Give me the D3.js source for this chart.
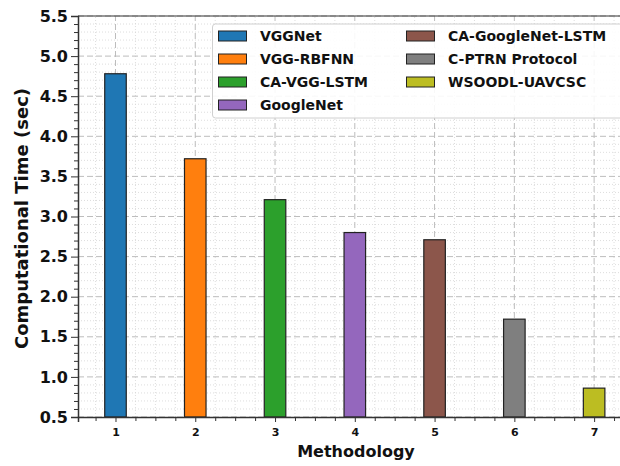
<!DOCTYPE html>
<html>
<head>
<meta charset="utf-8">
<script src="https://cdn.jsdelivr.net/npm/d3@7"></script>
<style>
	body { margin: 0; background: #fff; }
	svg { display: block; font-family: 'DejaVu Sans', sans-serif; font-weight: bold; }
</style>
</head>
<body>
<div class="bar-chart"></div>
<script>
// Chart data.
var methods = [1, 2, 3, 4, 5, 6, 7];
var names = ['VGGNet', 'VGG-RBFNN', 'CA-VGG-LSTM', 'GoogleNet', 'CA-GoogleNet-LSTM', 'C-PTRN Protocol', 'WSOODL-UAVCSC'];
var times = [4.78, 3.72, 3.21, 2.80, 2.71, 1.72, 0.86];
var colors = ['#1f77b4', '#ff7f0e', '#2ca02c', '#9467bd', '#8c564b', '#7f7f7f', '#bcbd22'];
var yTicks = [0.5, 1.0, 1.5, 2.0, 2.5, 3.0, 3.5, 4.0, 4.5, 5.0, 5.5];

var width = 620, height = 466;
var margin = {top: 16, left: 78, bottom: 49, right: -14};
var barWidth = 0.27;

var x = d3.scaleLinear().domain([0.53, 7.5]).range([margin.left, width - margin.right]);
var y = d3.scaleLinear().domain([0.5, 5.5]).range([height - margin.bottom, margin.top]);

var svg = d3.select('.bar-chart').append('svg')
	.attr('width', width)
	.attr('height', height);

// Grid lines: minor dotted, major dashed.
var xMinor = d3.range(0.75, 7.5, 0.25).filter(function(d) { return d % 1 !== 0; });
var yMinor = d3.range(6, 55).map(function(d) { return d / 10; }).filter(function(d) { return Math.round(d * 10) % 5 !== 0; });
var grid = svg.append('g');
grid.selectAll('.vminor').data(xMinor).enter().append('line')
	.attr('x1', x).attr('x2', x)
	.attr('y1', y(0.5)).attr('y2', y(5.5))
	.attr('stroke', '#d4d4d4').attr('stroke-width', 0.8).attr('stroke-dasharray', '1,2');
grid.selectAll('.hminor').data(yMinor).enter().append('line')
	.attr('x1', x(0.53)).attr('x2', width)
	.attr('y1', y).attr('y2', y)
	.attr('stroke', '#d4d4d4').attr('stroke-width', 0.8).attr('stroke-dasharray', '1,2');
grid.selectAll('.vmajor').data(methods).enter().append('line')
	.attr('x1', x).attr('x2', x)
	.attr('y1', y(0.5)).attr('y2', y(5.5))
	.attr('stroke', '#bdbdbd').attr('stroke-width', 1).attr('stroke-dasharray', '6,3');
grid.selectAll('.hmajor').data(yTicks).enter().append('line')
	.attr('x1', x(0.53)).attr('x2', width)
	.attr('y1', y).attr('y2', y)
	.attr('stroke', '#bdbdbd').attr('stroke-width', 1).attr('stroke-dasharray', '6,3');

// Bars.
svg.selectAll('.bar').data(methods).enter().append('rect')
	.attr('x', function(d) { return x(d - barWidth / 2); })
	.attr('width', x(1 + barWidth) - x(1))
	.attr('y', function(d, i) { return y(times[i]); })
	.attr('height', function(d, i) { return y(0.5) - y(times[i]); })
	.attr('fill', function(d, i) { return colors[i]; })
	.attr('stroke', '#222')
	.attr('stroke-width', 1.2);

// Axes.
var yAxis = svg.append('g')
	.attr('transform', 'translate(' + margin.left + ',0)')
	.call(d3.axisLeft(y).tickValues(yTicks).tickSize(7).tickPadding(3).tickFormat(d3.format('.1f')));
svg.append('g')
	.attr('transform', 'translate(' + margin.left + ',0)')
	.call(d3.axisLeft(y).tickValues(yMinor).tickSize(4).tickFormat(''))
	.select('.domain').remove();
var xAxis = svg.append('g')
	.attr('transform', 'translate(0,' + y(0.5) + ')')
	.call(d3.axisBottom(x).tickValues(methods).tickSize(5).tickPadding(6).tickFormat(d3.format('d')));
svg.append('g')
	.attr('transform', 'translate(0,' + y(0.5) + ')')
	.call(d3.axisBottom(x).tickValues(xMinor).tickSize(4).tickFormat(''))
	.select('.domain').remove();
svg.selectAll('.tick line').attr('stroke', '#333');
yAxis.selectAll('.tick text').attr('font-size', '16px').attr('font-family', 'DejaVu Sans').attr('font-weight', 'bold').attr('fill', '#111');
xAxis.selectAll('.tick text').attr('font-size', '11px').attr('font-family', 'DejaVu Sans').attr('font-weight', 'bold').attr('fill', '#111');
yAxis.select('.domain').attr('stroke', '#333').attr('stroke-width', 1.5);
xAxis.select('.domain').attr('stroke', '#333').attr('stroke-width', 1.5);

// Top spine.
svg.append('line')
	.attr('x1', x(0.53)).attr('x2', width)
	.attr('y1', y(5.5)).attr('y2', y(5.5))
	.attr('stroke', '#333').attr('stroke-width', 1.2);

// Axis labels.
svg.append('text')
	.attr('x', (x(0.53) + x(7.5)) / 2)
	.attr('y', 457)
	.attr('text-anchor', 'middle')
	.attr('font-size', '16px')
	.attr('fill', '#111')
	.text('Methodology');
svg.append('text')
	.attr('transform', 'translate(28,' + (y(3.0) + 2) + ') rotate(-90)')
	.attr('text-anchor', 'middle')
	.attr('font-size', '18px')
	.attr('fill', '#111')
	.text('Computational Time (sec)');

// Legend, two columns filled top to bottom.
var legend = svg.append('g');
legend.append('rect')
	.attr('x', 212.5).attr('y', 24)
	.attr('width', 430).attr('height', 94)
	.attr('rx', 3)
	.attr('fill', '#fff').attr('fill-opacity', 0.88)
	.attr('stroke', '#d0d0d0');
var entry = legend.selectAll('.entry').data(names).enter().append('g')
	.attr('transform', function(d, i) {
		var col = i < 4 ? 0 : 1, row = i < 4 ? i : i - 4;
		return 'translate(' + (col === 0 ? 218.5 : 406.5) + ',' + (31 + row * 23) + ')';
	});
entry.append('rect')
	.attr('width', 28).attr('height', 10)
	.attr('fill', function(d, i) { return colors[i]; })
	.attr('stroke', '#222').attr('stroke-width', 1);
entry.append('text')
	.attr('x', 41.5).attr('y', 10)
	.attr('font-size', '14px')
	.attr('fill', '#111')
	.text(function(d) { return d; });
</script>
</body>
</html>
